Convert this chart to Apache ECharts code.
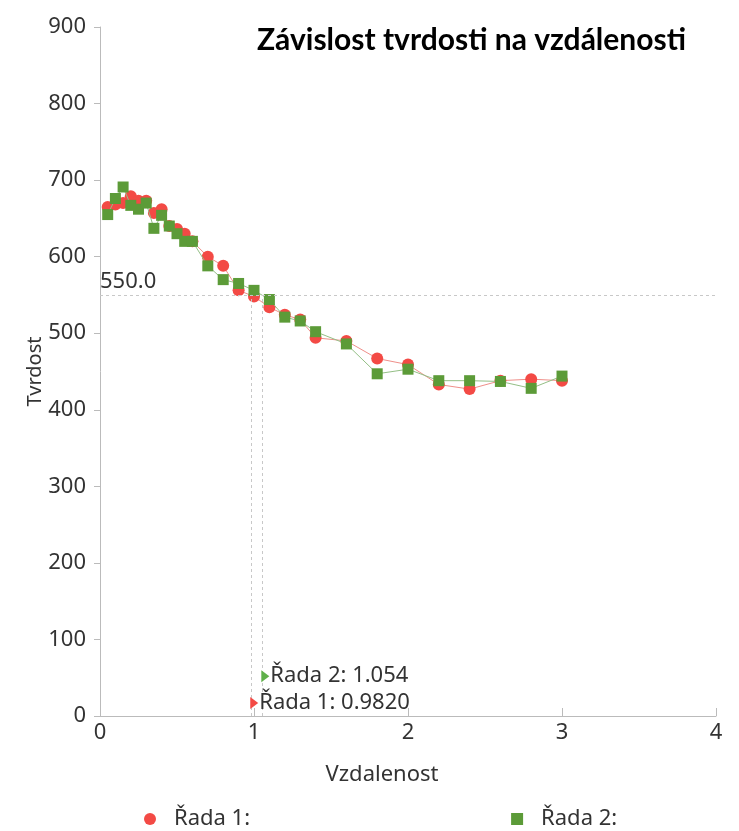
<!DOCTYPE html>
<html>
<head>
<meta charset="utf-8">
<script src="https://cdn.jsdelivr.net/npm/echarts@6/dist/echarts.min.js"></script>
<style>
html,body{margin:0;padding:0;background:#fff;}
#chart{width:739px;height:831px;}
</style>
</head>
<body>
<div id="chart"></div>
<script>
// Data
const distances = [0.05,0.1,0.15,0.2,0.25,0.3,0.35,0.4,0.45,0.5,0.55,0.6,0.7,0.8,0.9,1.0,1.1,1.2,1.3,1.4,1.6,1.8,2.0,2.2,2.4,2.6,2.8,3.0];
const series1Values = [665,668,670,679,673,673,657,662,640,636,630,620,600,588,556,548,534,524,518,494,490,467,459,433,427,438,440,438];
const series2Values = [655,676,691,667,662,670,637,654,640,630,620,620,588,570,565,556,544,521,516,502,486,447,453,438,438,437,428,444];
const seriesNames = ['Řada 1:', 'Řada 2:'];
const cursorLevel = 550;
const cursorX1 = 0.982;
const cursorX2 = 1.054;
const cursorLabels = ['Řada 1: 0.9820', 'Řada 2: 1.054'];
const cursorMarkerY = [17, 52];
const yTicks = { min: 0, max: 900, interval: 100 };
const xTicks = { min: 0, max: 4, interval: 1 };

const FONT = 'Noto Sans';
const red = '#f34a45';
const green = '#5c9b38';

const chart = echarts.init(document.getElementById('chart'), null, {renderer: 'canvas'});

const pairs1 = distances.map((d, i) => [d, series1Values[i]]);
const pairs2 = distances.map((d, i) => [d, series2Values[i]]);

const option = {
  backgroundColor: '#fff',
  animation: false,
  title: {
    text: 'Závislost tvrdosti na vzdálenosti',
    left: 252, top: 20,
    textStyle: { fontFamily: 'Lato', fontWeight: 'bold', fontSize: 30, color: '#000' }
  },
  grid: { left: 100, right: 23, top: 27, bottom: 115, containLabel: false },
  legend: {
    left: 139, top: 803,
    itemWidth: 12, itemHeight: 12, itemGap: 261,
    textStyle: { fontFamily: FONT, fontSize: 22, color: '#333', padding: [0,0,0,13] },
    data: [{name: seriesNames[0], icon: 'circle'}, {name: seriesNames[1], icon: 'rect'}]
  },
  xAxis: {
    type: 'value', min: xTicks.min, max: xTicks.max, interval: xTicks.interval,
    name: 'Vzdalenost', nameLocation: 'middle', nameGap: 48,
    nameTextStyle: { fontFamily: FONT, fontSize: 22, color: '#333', padding: [0, 52, 0, 0] },
    axisLine: { show: true, lineStyle: { color: '#bbb', width: 1 } },
    axisTick: { show: true, inside: true, length: 8, lineStyle: { color: '#bbb' } },
    axisLabel: { fontFamily: FONT, fontSize: 22, color: '#333', margin: 6 },
    splitLine: { show: false }
  },
  yAxis: {
    type: 'value', min: yTicks.min, max: yTicks.max, interval: yTicks.interval,
    name: 'Tvrdost', nameLocation: 'middle', nameGap: 55, nameMoveOverlap: false,
    nameTextStyle: { fontFamily: FONT, fontSize: 20, color: '#333' },
    axisLine: { show: true, lineStyle: { color: '#bbb', width: 1 } },
    axisTick: { show: true, length: 6, lineStyle: { color: '#bbb' } },
    axisLabel: { fontFamily: FONT, fontSize: 22, color: '#333', margin: 14 },
    splitLine: { show: false }
  },
  series: [
    {
      name: seriesNames[0], type: 'line', data: pairs1,
      symbol: 'circle', symbolSize: 12,
      itemStyle: { color: red },
      lineStyle: { color: '#ef8f8a', width: 1 },
      markLine: {
        silent: true, symbol: 'none', animation: false,
        lineStyle: { color: '#c8c8c8', type: [3, 3], width: 1 },
        label: { show: false },
        data: [
          [{ coord: [xTicks.min, cursorLevel], label: { show: true, position: 'insideStartTop', formatter: cursorLevel.toFixed(1), fontFamily: FONT, fontSize: 22, color: '#333', distance: [0, 2] } },
           { coord: [xTicks.max, cursorLevel] }],
          [{ coord: [cursorX1, 0] }, { coord: [cursorX1, cursorLevel] }],
          [{ coord: [cursorX2, 0] }, { coord: [cursorX2, cursorLevel] }]
        ]
      },
      markPoint: {
        silent: true, animation: false,
        data: [{
          coord: [cursorX1, cursorMarkerY[0]], symbol: 'triangle', symbolRotate: -90,
          symbolSize: [12, 8], symbolOffset: [3, 0], itemStyle: { color: red },
          label: { show: true, position: 'right', distance: 1, formatter: cursorLabels[0], fontFamily: FONT, fontSize: 22, color: '#333' }
        }]
      },
      z: 2
    },
    {
      name: seriesNames[1], type: 'line', data: pairs2,
      symbol: 'rect', symbolSize: 11,
      itemStyle: { color: green },
      lineStyle: { color: '#94bf86', width: 1 },
      markPoint: {
        silent: true, animation: false,
        data: [{
          coord: [cursorX2, cursorMarkerY[1]], symbol: 'triangle', symbolRotate: -90,
          symbolSize: [12, 8], symbolOffset: [3, 0], itemStyle: { color: '#5fb04a' },
          label: { show: true, position: 'right', distance: 1, formatter: cursorLabels[1], fontFamily: FONT, fontSize: 22, color: '#333' }
        }]
      },
      z: 3
    }
  ]
};
chart.setOption(option);
</script>
</body>
</html>
